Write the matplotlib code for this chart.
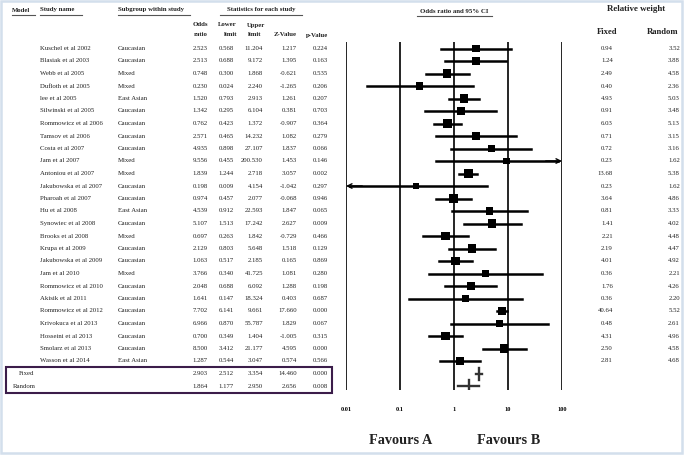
# Forest plot: odds ratios with 95% CI, fixed and random effects
import numpy as np
import matplotlib.pyplot as plt
from matplotlib.patches import Rectangle

studies = ['Kuschel et al 2002', 'Blasiak et al 2003', 'Webb et al 2005', 'Dufloth et al 2005',
           'lee et al 2005', 'Silwinski et al 2005', 'Rommowicz et al 2006', 'Tamsov et al 2006',
           'Costa et al 2007', 'Jam et al 2007', 'Antoniou et al 2007', 'Jakubowska et al 2007',
           'Pharoah et al 2007', 'Hu et al 2008', 'Synowiec et al 2008', 'Brooks et al 2008',
           'Krupa et al 2009', 'Jakubowska et al 2009', 'Jam et al 2010', 'Rommowicz et al 2010',
           'Akisik et al 2011', 'Rommowicz et al 2012', 'Krivokuca et al 2013', 'Hosseini et al 2013',
           'Smolarz et al 2013', 'Wasson et al 2014']
subgroups = ['Caucasian', 'Caucasian', 'Mixed', 'Mixed', 'East Asian', 'Caucasian', 'Caucasian',
             'Caucasian', 'Caucasian', 'Mixed', 'Mixed', 'Caucasian', 'Caucasian', 'East Asian',
             'Caucasian', 'Mixed', 'Caucasian', 'Caucasian', 'Mixed', 'Caucasian', 'Caucasian',
             'Caucasian', 'Caucasian', 'Caucasian', 'Caucasian', 'East Asian']
odds = [2.523, 2.513, 0.748, 0.230, 1.520, 1.342, 0.762, 2.571, 4.935, 9.556, 1.839, 0.198, 0.974,
        4.539, 5.107, 0.697, 2.129, 1.063, 3.766, 2.048, 1.641, 7.702, 6.966, 0.700, 8.500, 1.287]
lower = [0.568, 0.688, 0.300, 0.024, 0.793, 0.295, 0.423, 0.465, 0.898, 0.455, 1.244, 0.009, 0.457,
         0.912, 1.513, 0.263, 0.803, 0.517, 0.340, 0.688, 0.147, 6.141, 0.870, 0.349, 3.412, 0.544]
upper = [11.204, 9.172, 1.868, 2.240, 2.913, 6.104, 1.372, 14.232, 27.107, 200.530, 2.718, 4.154,
         2.077, 22.593, 17.242, 1.842, 5.648, 2.185, 41.725, 6.092, 18.324, 9.661, 55.787, 1.404,
         21.177, 3.047]
zvals = [1.217, 1.395, -0.621, -1.265, 1.261, 0.381, -0.907, 1.082, 1.837, 1.453, 3.057, -1.042,
         -0.068, 1.847, 2.627, -0.729, 1.518, 0.165, 1.081, 1.288, 0.403, 17.660, 1.829, -1.005,
         4.595, 0.574]
pvals = [0.224, 0.163, 0.535, 0.206, 0.207, 0.703, 0.364, 0.279, 0.066, 0.146, 0.002, 0.297, 0.946,
         0.065, 0.009, 0.466, 0.129, 0.869, 0.280, 0.198, 0.687, 0.000, 0.067, 0.315, 0.000, 0.566]
w_fixed = [0.94, 1.24, 2.49, 0.40, 4.93, 0.91, 6.03, 0.71, 0.72, 0.23, 13.68, 0.23, 3.64, 0.81,
           1.41, 2.21, 2.19, 4.01, 0.36, 1.76, 0.36, 40.64, 0.48, 4.31, 2.50, 2.81]
w_random = [3.52, 3.88, 4.58, 2.36, 5.03, 3.48, 5.13, 3.15, 3.16, 1.62, 5.38, 1.62, 4.86, 3.33,
            4.02, 4.48, 4.47, 4.92, 2.21, 4.26, 2.20, 5.52, 2.61, 4.96, 4.58, 4.68]

summary_labels = ['Fixed', 'Random']
summary_or = [2.903, 1.864]
summary_lo = [2.512, 1.177]
summary_hi = [3.354, 2.950]
summary_z = [14.460, 2.656]
summary_p = [0.000, 0.008]

ticks = [0.01, 0.1, 1, 10, 100]
tick_labels = ['0.01', '0.1', '1', '10', '100']

# ---- layout (pixel coordinates) ----
W, H = 685, 455
row0, step = 48.5, 12.5
rows_y = row0 + step * np.arange(len(studies))
sum_y = [373.5, 386.0]
serif = 'Liberation Serif'
fs = 4.9

fig = plt.figure(figsize=(W / 100, H / 100), dpi=100)
fig.patch.set_facecolor('white')

# text layer in pixel coords
ax_t = fig.add_axes([0, 0, 1, 1])
ax_t.set_xlim(0, W)
ax_t.set_ylim(H, 0)
ax_t.axis('off')

def txt(x, y, s, ha='left', size=fs, bold=False):
    ax_t.text(x, y, s, ha=ha, va='center', fontsize=size, family=serif,
              fontweight='bold' if bold else 'normal', color='#222222')

# header row
txt(12, 10, 'Model', bold=True)
txt(40, 10, 'Study name', bold=True)
txt(118, 10, 'Subgroup within study', bold=True)
txt(261, 10, 'Statistics for each study', ha='center', bold=True)
txt(454, 11.5, 'Odds ratio and 95% CI', ha='center', bold=True)
for x0, x1, y in [(12, 35, 14.5), (40, 82, 14.5), (118, 190, 14.5), (220, 302, 14.5), (417, 492, 16)]:
    ax_t.plot([x0, x1], [y, y], color='#555555', lw=0.8)

txt(208, 25, 'Odds', ha='right', bold=True)
txt(208, 35, 'ratio', ha='right', bold=True)
txt(237, 25, 'Lower', ha='right', bold=True)
txt(237, 35, 'limit', ha='right', bold=True)
txt(247, 25, 'Upper', bold=True)
txt(248, 35, 'limit', bold=True)
txt(297, 35, 'Z-Value', ha='right', bold=True)
txt(328, 35, 'p-Value', ha='right', bold=True)

txt(636, 9, 'Relative weight', ha='center', size=6.4, bold=True)
txt(607, 32, 'Fixed', ha='center', size=6.2, bold=True)
txt(663, 32, 'Random', ha='center', size=6.2, bold=True)

# study rows
for i, y in enumerate(rows_y):
    txt(40, y, studies[i])
    txt(118, y, subgroups[i])
    txt(208, y, f'{odds[i]:.3f}', ha='right')
    txt(234, y, f'{lower[i]:.3f}', ha='right')
    txt(263, y, f'{upper[i]:.3f}', ha='right')
    txt(297, y, f'{zvals[i]:.3f}', ha='right')
    txt(328, y, f'{pvals[i]:.3f}', ha='right')
    txt(613, y, f'{w_fixed[i]:.2f}', ha='right')
    txt(680, y, f'{w_random[i]:.2f}', ha='right')

# summary rows + box
for j, y in enumerate(sum_y):
    txt([19, 13][j], y, summary_labels[j])
    txt(208, y, f'{summary_or[j]:.3f}', ha='right')
    txt(234, y, f'{summary_lo[j]:.3f}', ha='right')
    txt(263, y, f'{summary_hi[j]:.3f}', ha='right')
    txt(297, y, f'{summary_z[j]:.3f}', ha='right')
    txt(328, y, f'{summary_p[j]:.3f}', ha='right')
ax_t.add_patch(Rectangle((6.5, 367), 326, 25.5, fill=False, ec='#3b1d4a', lw=1.5))

# Favours labels
txt(401, 441, 'Favours A', ha='center', size=10.3, bold=True)
txt(509, 441, 'Favours B', ha='center', size=10.3, bold=True)

# outer light frame
ax_t.add_patch(Rectangle((1, 1), 681, 451.5, fill=False, ec='#d3dfec', lw=1.8))

# ---- forest axes (log scale) ----
top_px, bot_px = 42, 390
ax_f = fig.add_axes([346 / W, (H - bot_px) / H, 216 / W, (bot_px - top_px) / H])
ax_f.set_xscale('log')
ax_f.set_xlim(0.01, 100)
ax_f.set_ylim(bot_px, top_px)
ax_f.patch.set_alpha(0)
for sp in ax_f.spines.values():
    sp.set_visible(False)
ax_f.set_yticks([])
ax_f.set_xticks(ticks)
ax_f.set_xticklabels(tick_labels, family=serif, fontweight='bold', fontsize=4.6)
ax_f.minorticks_off()
ax_f.tick_params(axis='x', length=0, pad=12)

for t in ticks:
    ax_f.axvline(t, color='black', lw=1.2, zorder=1)

xmin, xmax = ax_f.get_xlim()
arrow = dict(arrowstyle='->', lw=1.0, mutation_scale=8, color='black', shrinkA=0, shrinkB=0)
for i, y in enumerate(rows_y):
    lo, hi = lower[i], upper[i]
    if hi > xmax:
        ax_f.plot([lo, xmax * 0.85], [y, y], color='black', lw=1.8, zorder=2)
        ax_f.annotate('', xy=(xmax, y), xytext=(xmax * 0.5, y), arrowprops=arrow,
                      annotation_clip=False)
    elif lo < xmin:
        ax_f.plot([xmin / 0.85, hi], [y, y], color='black', lw=1.8, zorder=2)
        ax_f.annotate('', xy=(xmin, y), xytext=(xmin / 0.5, y), arrowprops=arrow,
                      annotation_clip=False)
    else:
        ax_f.plot([lo, hi], [y, y], color='black', lw=1.8, zorder=2)

# squares sized by random weight
side_px = 6.2 + 0.45 * np.array(w_random)
ax_f.scatter(odds, rows_y, marker='s', s=(side_px * 0.72) ** 2, color='black', zorder=3, linewidths=0)

# summary crosses
for j, y in enumerate(sum_y):
    ax_f.plot([summary_lo[j], summary_hi[j]], [y, y], color='#333333', lw=1.7, zorder=3)
    ax_f.plot([summary_or[j], summary_or[j]], [y - 6, y + 6], color='#333333', lw=1.7, zorder=3)

plt.savefig('out.png', dpi=100)
